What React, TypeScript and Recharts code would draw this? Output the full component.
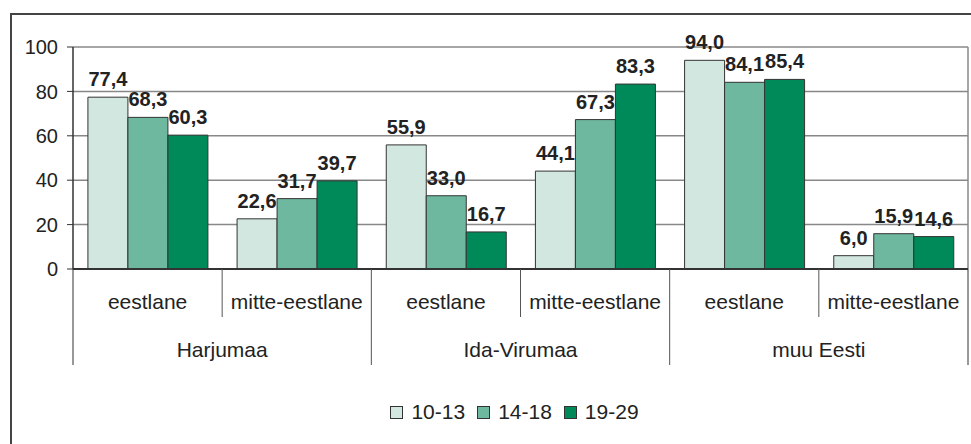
import { BarChart, Bar, XAxis, YAxis, CartesianGrid, LabelList } from 'recharts';

const regions = ['Harjumaa', 'Harjumaa', 'Ida-Virumaa', 'Ida-Virumaa', 'muu Eesti', 'muu Eesti'];
const groups = ['eestlane', 'mitte-eestlane', 'eestlane', 'mitte-eestlane', 'eestlane', 'mitte-eestlane'];
const age10to13 = [77.4, 22.6, 55.9, 44.1, 94.0, 6.0];
const age14to18 = [68.3, 31.7, 33.0, 67.3, 84.1, 15.9];
const age19to29 = [60.3, 39.7, 16.7, 83.3, 85.4, 14.6];
const yTicks = [0, 20, 40, 60, 80, 100];

const series = [
  { key: 'a', name: '10-13', color: '#d2e7df' },
  { key: 'b', name: '14-18', color: '#6fb8a0' },
  { key: 'c', name: '19-29', color: '#008a5a' },
];

const data = groups.map((g, i) => ({
  id: i,
  group: g,
  region: regions[i],
  a: age10to13[i],
  b: age14to18[i],
  c: age19to29[i],
}));

const FONT = '"Liberation Sans", Arial, sans-serif';
const fmt = (v: number) => v.toFixed(1).replace('.', ',');

// two-level category axis: sub label, separators, region label under each pair
const CategoryTick = (props: any) => {
  const { x, y, payload, index } = props;
  const half = payload?.offset ?? 74.5;
  const row = data[index] ?? data[payload.value];
  const isLast = index === data.length - 1;
  const rightLong = index % 2 === 1;
  return (
    <g>
      {index === 0 && (
        <line x1={x - half} y1={y} x2={x - half} y2={y + 96} stroke="#333" strokeWidth={1} />
      )}
      <line
        x1={x + half}
        y1={y}
        x2={x + half}
        y2={rightLong ? y + 96 : y + 48}
        stroke={isLast ? '#333' : '#555'}
        strokeWidth={1}
      />
      <text x={x} y={y + 40} textAnchor="middle" fontSize={21} fill="#222" fontFamily={FONT}>
        {row.group}
      </text>
      {index % 2 === 0 && (
        <text x={x + half} y={y + 88} textAnchor="middle" fontSize={21} fill="#222" fontFamily={FONT}>
          {row.region}
        </text>
      )}
    </g>
  );
};

const LegendBox = () => (
  <div
    style={{
      position: 'absolute',
      left: 73,
      width: 895,
      top: 400,
      display: 'flex',
      justifyContent: 'center',
      fontFamily: FONT,
      fontSize: 21,
      color: '#222',
      lineHeight: '24px',
    }}
  >
    {series.map((s) => (
      <div key={s.key} style={{ display: 'flex', alignItems: 'center', marginRight: 12 }}>
        <span
          style={{
            display: 'inline-block',
            width: 11,
            height: 11,
            background: s.color,
            border: '1px solid #333',
            marginRight: 8,
          }}
        />
        {s.name}
      </div>
    ))}
  </div>
);

export default function App() {
  return (
    <div style={{ position: 'absolute', left: 0, top: 0, width: 971, height: 444, background: '#fff', overflow: 'hidden' }}>
      <div
        style={{
          position: 'absolute',
          left: 10,
          top: 13,
          width: 980,
          height: 460,
          borderLeft: '2px solid #444',
          borderTop: '2px solid #444',
        }}
      />
      <div style={{ position: 'absolute', left: 0, top: 0 }}>
        <BarChart
          width={971}
          height={444}
          data={data}
          margin={{ top: 47, right: 3, left: 0, bottom: 79 }}
          barCategoryGap="10%"
          barGap={0}
        >
          <CartesianGrid
            stroke="#888"
            strokeWidth={1.5}
            vertical={true}
            verticalCoordinatesGenerator={({ offset }: any) => [offset.left + offset.width]}
          />
          <XAxis
            dataKey="id"
            type="category"
            height={96}
            tickLine={false}
            tickSize={0}
            tickMargin={0}
            axisLine={{ stroke: '#333', strokeWidth: 2 }}
            tick={<CategoryTick />}
            interval={0}
          />
          <YAxis
            domain={[0, 100]}
            ticks={yTicks}
            width={73}
            tickSize={6}
            tickMargin={9}
            axisLine={{ stroke: '#333', strokeWidth: 1.5 }}
            tickLine={{ stroke: '#333' }}
            tick={{ fontSize: 20, fill: '#222', fontFamily: FONT }}
          />
          {series.map((s) => (
            <Bar
              key={s.key}
              dataKey={s.key}
              name={s.name}
              fill={s.color}
              stroke="#333"
              strokeWidth={1}
              isAnimationActive={false}
            >
              <LabelList
                dataKey={s.key}
                position="top"
                offset={11}
                formatter={(v: any) => fmt(Number(v))}
                style={{ fontSize: 20, fontWeight: 'bold', fill: '#222', fontFamily: FONT }}
              />
            </Bar>
          ))}
        </BarChart>
      </div>
      <LegendBox />
    </div>
  );
}
